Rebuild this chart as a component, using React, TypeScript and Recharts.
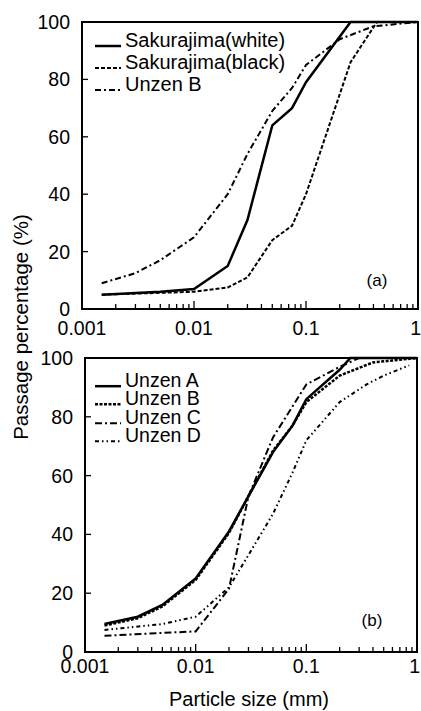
import React from "react";
import { Legend, Line, LineChart, ReferenceArea, XAxis, YAxis } from "recharts";

// particle size (mm) / passage percentage (%)
const sakuraWhiteSize = [0.0015, 0.005, 0.01, 0.02, 0.03, 0.05, 0.075, 0.1, 0.25, 1];
const sakuraWhitePass = [5, 6, 7, 15, 31, 64, 70, 79, 100, 100];

const sakuraBlackSize = [0.0015, 0.01, 0.02, 0.03, 0.05, 0.075, 0.1, 0.25, 0.43, 1];
const sakuraBlackPass = [5, 6, 7.5, 11, 24, 29, 40, 86, 100, 100];

const unzenBTopSize = [0.0015, 0.003, 0.005, 0.01, 0.02, 0.03, 0.05, 0.075, 0.1, 0.2, 0.4, 1];
const unzenBTopPass = [9, 12.5, 17, 25, 40, 54, 69, 77, 85, 94, 98.5, 100];

const unzenASize = [0.0015, 0.003, 0.005, 0.01, 0.02, 0.03, 0.05, 0.075, 0.1, 0.2, 0.25, 1];
const unzenAPass = [9.5, 12, 16, 25, 41, 53, 68, 77, 86, 96, 100, 100];

const unzenBSize = [0.0015, 0.003, 0.005, 0.01, 0.02, 0.03, 0.05, 0.075, 0.1, 0.2, 0.4, 1];
const unzenBPass = [9, 11.5, 15.5, 24.5, 40.5, 53, 68.5, 77, 85, 94, 98.5, 100];

const unzenCSize = [0.0015, 0.005, 0.01, 0.02, 0.03, 0.05, 0.1, 0.2, 0.3, 1];
const unzenCPass = [5.5, 6.5, 7, 21.5, 53, 73, 91, 97, 100, 100];

const unzenDSize = [0.0015, 0.005, 0.01, 0.02, 0.03, 0.05, 0.075, 0.1, 0.2, 0.35, 0.5, 0.85];
const unzenDPass = [7.5, 9.5, 12, 22, 33, 47, 61, 72, 85, 91, 94, 97.5];

const xMajorTicks = [0.001, 0.01, 0.1, 1];
const xTicks = [
  0.001, 0.002, 0.003, 0.004, 0.005, 0.006, 0.007, 0.008, 0.009,
  0.01, 0.02, 0.03, 0.04, 0.05, 0.06, 0.07, 0.08, 0.09,
  0.1, 0.2, 0.3, 0.4, 0.5, 0.6, 0.7, 0.8, 0.9, 1,
];
const yTicks = [0, 20, 40, 60, 80, 100];

const font = "'Liberation Sans', Arial, Helvetica, sans-serif";

const toPoints = (xs: number[], ys: number[]) => xs.map((x, i) => ({ x, y: ys[i] }));

const makeXTick = (labelDy: number) => (props: any) => {
  const { x, y, payload } = props;
  const major = xMajorTicks.some((t) => Math.abs(t - payload.value) < 1e-9);
  const last = payload.value === 1;
  return (
    <g>
      <line x1={x} y1={y} x2={x} y2={y - (major ? 8 : 5)} stroke="#000" strokeWidth={1.3} />
      {major && (
        <text
          x={last ? x + 3 : x}
          y={y + labelDy}
          textAnchor={last ? "end" : "middle"}
          fontSize={19.5}
          fontFamily={font}
          fill="#000"
        >
          {String(payload.value)}
        </text>
      )}
    </g>
  );
};

const YTick = (props: any) => {
  const { x, y, payload } = props;
  return (
    <g>
      <line x1={x} y1={y} x2={x + 6} y2={y} stroke="#000" strokeWidth={1.3} />
      <text x={x - 12} y={y + 7} textAnchor="end" fontSize={19.5} fontFamily={font} fill="#000">
        {payload.value}
      </text>
    </g>
  );
};

type Item = { name: string; dash?: string; width: number };

const LegendBox = ({ items, rowH, size }: { items: Item[]; rowH: number; size: number }) => (
  <div style={{ fontFamily: font, fontSize: size, color: "#000" }}>
    {items.map((it) => (
      <div key={it.name} style={{ display: "flex", alignItems: "center", height: rowH, lineHeight: `${rowH}px` }}>
        <svg width={32} height={rowH} style={{ flex: "none" }}>
          <line
            x1={2}
            x2={28}
            y1={rowH / 2 + 6}
            y2={rowH / 2 + 6}
            stroke="#000"
            strokeWidth={it.width}
            strokeDasharray={it.dash}
          />
        </svg>
        <span style={{ whiteSpace: "nowrap" }}>{it.name}</span>
      </div>
    ))}
  </div>
);

const topSeries = [
  { name: "Sakurajima(white)", data: toPoints(sakuraWhiteSize, sakuraWhitePass), width: 2.5, dash: undefined },
  { name: "Sakurajima(black)", data: toPoints(sakuraBlackSize, sakuraBlackPass), width: 2, dash: "4 2" },
  { name: "Unzen B", data: toPoints(unzenBTopSize, unzenBTopPass), width: 2, dash: "6 3 2 3" },
];

const bottomSeries = [
  { name: "Unzen A", data: toPoints(unzenASize, unzenAPass), width: 2.5, dash: undefined },
  { name: "Unzen B", data: toPoints(unzenBSize, unzenBPass), width: 2.5, dash: "3 1.5" },
  { name: "Unzen C", data: toPoints(unzenCSize, unzenCPass), width: 2, dash: "7 3 2 3" },
  { name: "Unzen D", data: toPoints(unzenDSize, unzenDPass), width: 2, dash: "4 3 1.5 3 1.5 3" },
];

const Panel = ({
  series,
  height,
  margin,
  yAxisWidth,
  xAxisHeight,
  labelDy,
  legendTop,
  rowH,
  legendSize,
}: any) => (
  <LineChart width={421} height={height} margin={margin}>
    <XAxis
      dataKey="x"
      type="number"
      scale="log"
      domain={[0.001, 1]}
      allowDataOverflow
      ticks={xTicks}
      interval={0}
      height={xAxisHeight}
      tickSize={0}
      tickMargin={0}
      tickLine={false}
      axisLine={{ stroke: "#000", strokeWidth: 2 }}
      tick={makeXTick(labelDy)}
    />
    <YAxis
      type="number"
      domain={[0, 100]}
      ticks={yTicks}
      interval={0}
      width={yAxisWidth}
      tickSize={0}
      tickMargin={0}
      tickLine={false}
      axisLine={{ stroke: "#000", strokeWidth: 2 }}
      tick={YTick}
    />
    <ReferenceArea x1={0.001} x2={1} y1={0} y2={100} fill="none" stroke="#000" strokeWidth={2} />
    {series.map((s: any) => (
      <Line
        key={s.name}
        name={s.name}
        data={s.data}
        dataKey="y"
        type="linear"
        stroke="#000"
        strokeWidth={s.width}
        strokeDasharray={s.dash}
        dot={false}
        isAnimationActive={false}
      />
    ))}
    <Legend
      layout="vertical"
      align="center"
      verticalAlign="middle"
      wrapperStyle={{ top: legendTop, left: 93, width: 260 }}
      content={() => <LegendBox items={series} rowH={rowH} size={legendSize} />}
    />
  </LineChart>
);

export default function App() {
  return (
    <div style={{ position: "absolute", left: 0, top: 0, width: 421, height: 711, background: "#fff" }}>
      <div style={{ position: "absolute", left: 0, top: 0 }}>
        <Panel
          series={topSeries}
          height={340}
          margin={{ top: 22, right: 3, left: 0, bottom: 0 }}
          yAxisWidth={82}
          xAxisHeight={31}
          labelDy={26}
          legendTop={29}
          rowH={22}
          legendSize={20}
        />
      </div>
      <div style={{ position: "absolute", left: 0, top: 340 }}>
        <Panel
          series={bottomSeries}
          height={371}
          margin={{ top: 18, right: 4, left: 0, bottom: 0 }}
          yAxisWidth={85}
          xAxisHeight={59}
          labelDy={21}
          legendTop={31}
          rowH={18.4}
          legendSize={19.5}
        />
      </div>
      <svg
        width={421}
        height={711}
        style={{ position: "absolute", left: 0, top: 0, pointerEvents: "none" }}
        fontFamily={font}
      >
        <text x={28} y={327} transform="rotate(-90 28 327)" textAnchor="middle" fontSize={20.5} fill="#000">
          Passage percentage (%)
        </text>
        <text x={249} y={706} textAnchor="middle" fontSize={20} fill="#000">
          Particle size (mm)
        </text>
        <text x={377} y={286} textAnchor="middle" fontSize={17} fill="#000">
          (a)
        </text>
        <text x={372} y={626} textAnchor="middle" fontSize={17} fill="#000">
          (b)
        </text>
      </svg>
    </div>
  );
}
